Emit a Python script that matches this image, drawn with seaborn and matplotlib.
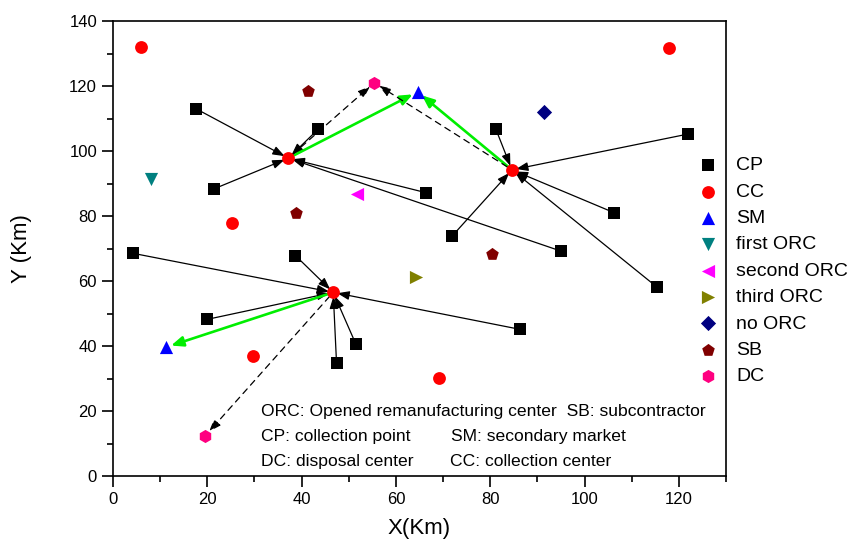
import matplotlib
matplotlib.use('Agg')
import matplotlib.pyplot as plt
import seaborn as sns
from matplotlib.ticker import MultipleLocator

# node coordinates [km]
cp_x = [17.6, 43.5, 21.5, 66.3, 95.0, 81.2, 121.9, 106.3, 71.9, 115.3, 4.3, 38.7, 20.0, 86.4, 51.5, 47.4]
cp_y = [113.0, 106.7, 88.4, 87.2, 69.2, 106.7, 105.2, 81.0, 73.8, 58.2, 68.5, 67.8, 48.2, 45.1, 40.6, 34.9]
cc_x = [5.9, 118.0, 37.2, 84.6, 46.7, 25.2, 29.6, 69.2]
cc_y = [132.1, 131.8, 97.8, 94.2, 56.5, 77.8, 36.8, 30.3]
sm_x = [64.6, 11.2]
sm_y = [118.2, 39.6]
orc1_x, orc1_y = [8.0], [91.3]
orc2_x, orc2_y = [51.7], [86.8]
orc3_x, orc3_y = [64.3], [61.3]
noorc_x, noorc_y = [91.4], [112.1]
sb_x = [41.4, 38.8, 80.3]
sb_y = [118.5, 80.8, 68.4]
dc_x = [55.4, 19.6]
dc_y = [121.0, 12.4]

# flows: which opened CC each CP ships to, and where each hub sends to
cp_to_cc = [2, 2, 2, 2, 2, 3, 3, 3, 3, 3, 4, 4, 4, 4, 4, 4]
cc_to_sm = [(2, 0), (3, 0), (4, 1)]
cc_to_dc = [(2, 0), (3, 0), (4, 1)]

sns.set_style("ticks")
plt.rcParams['font.family'] = ['Liberation Sans', 'DejaVu Sans']
plt.rcParams.update({'text.color': 'black', 'axes.labelcolor': 'black', 'axes.edgecolor': 'black',
                     'xtick.color': 'black', 'ytick.color': 'black'})

fig = plt.figure(figsize=(8.49, 5.41), dpi=100)
ax = fig.add_axes([113/849, 1-476/541, (726-113)/849, (476-21)/541])

# arrows first so markers sit on top
for i, h in enumerate(cp_to_cc):
    ax.annotate("", xy=(cc_x[h], cc_y[h]), xytext=(cp_x[i], cp_y[i]),
                arrowprops=dict(arrowstyle='-|>,head_length=0.6,head_width=0.22', color='k',
                                lw=0.9, shrinkA=4, shrinkB=3, mutation_scale=12), zorder=2)
for h, s in cc_to_sm:
    ax.annotate("", xy=(sm_x[s], sm_y[s]), xytext=(cc_x[h], cc_y[h]),
                arrowprops=dict(arrowstyle='-|>,head_length=0.6,head_width=0.25', color='#00ee00',
                                lw=1.9, shrinkA=2, shrinkB=4, mutation_scale=12), zorder=2)
for h, d in cc_to_dc:
    ax.annotate("", xy=(dc_x[d], dc_y[d]), xytext=(cc_x[h], cc_y[h]),
                arrowprops=dict(arrowstyle='-|>,head_length=0.6,head_width=0.22', color='k',
                                lw=0.9, ls=(0, (5, 4)), shrinkA=4, shrinkB=4, mutation_scale=12), zorder=2)

groups = [
    ("CP", cp_x, cp_y, 's', 'black', 75),
    ("CC", cc_x, cc_y, 'o', '#ff0000', 85),
    ("SM", sm_x, sm_y, '^', '#0000ff', 90),
    ("first ORC", orc1_x, orc1_y, 'v', '#008080', 90),
    ("second ORC", orc2_x, orc2_y, '<', '#ff00ff', 90),
    ("third ORC", orc3_x, orc3_y, '>', '#808000', 90),
    ("no ORC", noorc_x, noorc_y, 'D', '#000080', 60),
    ("SB", sb_x, sb_y, 'p', '#800000', 90),
    ("DC", dc_x, dc_y, 'h', '#ff0080', 90),
]
for name, gx, gy, mk, col, sz in groups:
    sns.scatterplot(x=gx, y=gy, marker=mk, color=col, s=sz, edgecolor=col,
                    linewidth=0, label=name, ax=ax, zorder=3)

ax.set_xlim(0, 130)
ax.set_ylim(0, 140)
ax.xaxis.set_major_locator(MultipleLocator(20))
ax.xaxis.set_minor_locator(MultipleLocator(10))
ax.yaxis.set_major_locator(MultipleLocator(20))
ax.yaxis.set_minor_locator(MultipleLocator(10))
ax.tick_params(which='major', length=8, width=1.2, labelsize=12, direction='out')
ax.tick_params(which='minor', length=4, width=1.2, direction='out')
for sp in ax.spines.values():
    sp.set_linewidth(1.2)

ax.set_xlabel("X(Km)", fontsize=16, labelpad=8)
ax.set_ylabel("Y (Km)", fontsize=16, labelpad=27)

txt = dict(fontsize=12.6, va='center', ha='left')
ax.text(31.3, 19.7, "ORC: Opened remanufacturing center  SB: subcontractor", **txt)
ax.text(31.3, 12.0, "CP: collection point", **txt)
ax.text(71.6, 12.0, "SM: secondary market", **txt)
ax.text(31.3, 4.6, "DC: disposal center", **txt)
ax.text(71.4, 4.6, "CC: collection center", **txt)

ax.legend(loc='center left', bbox_to_anchor=(698/849, 1-271/541), bbox_transform=fig.transFigure,
          frameon=False, fontsize=14, borderaxespad=0, borderpad=0, handlelength=1.0,
          handletextpad=0.95, labelspacing=0.45, markerscale=1.0)

fig.savefig("out.png", dpi=100)
